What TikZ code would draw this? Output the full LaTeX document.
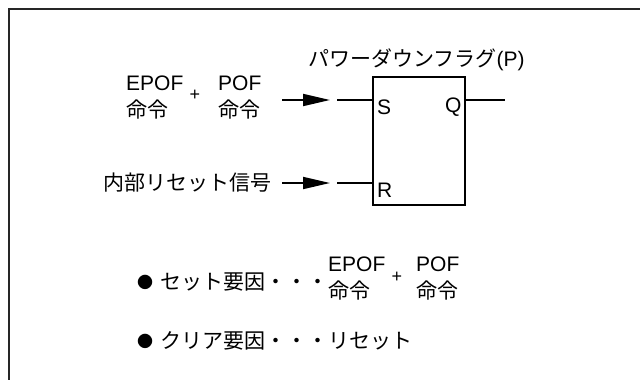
\documentclass[tikz,border=0pt]{standalone}
\usepackage{fontspec}
\setmainfont{Liberation Sans}
\newfontfamily\jp{Noto Sans CJK JP}
\usetikzlibrary{arrows.meta}
\begin{document}
\begin{tikzpicture}[x=1pt,y=-1pt,
  txt/.style={inner sep=0pt, anchor=west, font=\fontsize{21}{25}\selectfont},
  jtxt/.style={inner sep=0pt, anchor=west, font=\fontsize{21}{25}\selectfont\jp},
  plus/.style={inner sep=0pt, font=\fontsize{18}{20}\selectfont},
  bullet/.style={inner sep=0pt, font=\fontsize{16}{18}\selectfont\jp},
  wire/.style={line width=1.8pt},
  arr/.style={wire, -{Triangle[length=27pt,width=12pt]}}]
\useasboundingbox (0,0) rectangle (640,380);
\fill[white] (0,0) rectangle (640,380);
\draw[line width=2.6pt, black!85] (9,382) -- (9,9) -- (642,9);

% flip-flop box
\node[draw, line width=1.8pt, minimum width=92pt, minimum height=128pt, inner sep=0pt] (ff) at (419,141) {};
\node[jtxt] (title) at (308,60) {パワーダウンフラグ{\rmfamily(P)}};
\node[txt] (S) at (377,107) {S};
\node[txt] (Q) at (445,107) {Q};
\node[txt] (R) at (377,190) {R};

% set input
\node[txt] (epof1) at (126,83) {EPOF};
\node[jtxt] (mei1) at (126,110) {命令};
\node[plus] (plus1) at (195,95) {+};
\node[txt] (pof1) at (218,83) {POF};
\node[jtxt] (mei2) at (218,110) {命令};
\coordinate (sa) at (282,100);
\coordinate (sb) at (330,100);
\coordinate (sc) at (337,100);
\draw[arr] (sa) -- (sb);
\draw[wire] (sc) -- (sc -| ff.west);

% reset input
\node[jtxt] (rst) at (103,183) {内部リセット信号};
\coordinate (ra) at (282,183);
\coordinate (rb) at (330,183);
\coordinate (rc) at (337,183);
\draw[arr] (ra) -- (rb);
\draw[wire] (rc) -- (rc -| ff.west);

% output
\coordinate (qo) at (505,100);
\draw[wire] (ff.east |- qo) -- (qo);

% notes
\node[bullet] (b1) at (145,282) {●};
\node[jtxt] (set) at (160,282) {セット要因・・・};
\node[txt] (epof2) at (328,264) {EPOF};
\node[jtxt] (mei3) at (328,291) {命令};
\node[plus] (plus2) at (397,277) {+};
\node[txt] (pof2) at (416,264) {POF};
\node[jtxt] (mei4) at (416,291) {命令};
\node[bullet] (b2) at (145,341) {●};
\node[jtxt] (clr) at (160,341) {クリア要因・・・リセット};
\end{tikzpicture}
\end{document}
